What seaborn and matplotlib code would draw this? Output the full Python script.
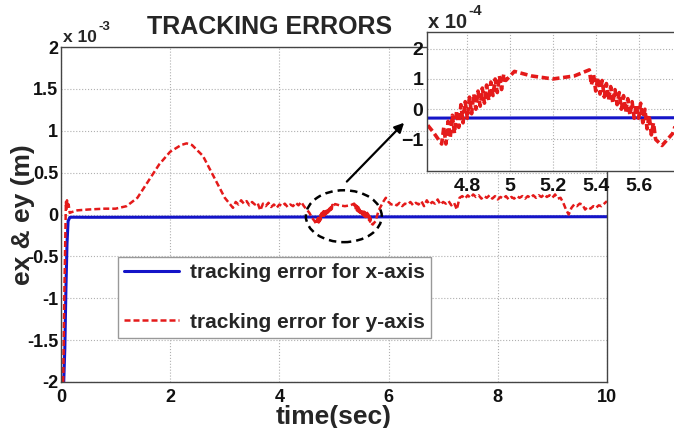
import numpy as np
import pandas as pd
import matplotlib
matplotlib.use("Agg")
import matplotlib.pyplot as plt
from matplotlib.patches import Ellipse
import seaborn as sns

# ---------------- data (errors in units of 1e-3 m) ----------------
t_x = [0.05, 0.07, 0.09, 0.11, 0.13, 0.16, 0.2, 0.5, 2.0, 4.0, 6.0, 8.0, 10.0]
ex = [-2.0, -1.6, -0.9, -0.35, -0.08, -0.035, -0.032, -0.033, -0.032, -0.03, -0.028, -0.027, -0.026]

# start-up + bump
t_y1 = [0.04, 0.06, 0.08, 0.09, 0.10, 0.11, 0.12, 0.14, 0.16, 0.2, 0.3, 0.5, 0.8, 1.0, 1.2,
        1.4, 1.6, 1.8, 2.0, 2.2, 2.3, 2.4, 2.6, 2.8, 3.0, 3.1, 3.15]
ey1 = [-2.0, -1.0, -0.2, 0.15, 0.05, 0.17, 0.08, 0.12, 0.02, 0.03, 0.05, 0.06, 0.07, 0.07, 0.1,
       0.2, 0.4, 0.6, 0.75, 0.83, 0.85, 0.83, 0.7, 0.45, 0.2, 0.12, 0.08]
# noisy section before the zoomed region
t_y2 = [3.2, 3.25, 3.3, 3.35, 3.4, 3.45, 3.5, 3.55, 3.6, 3.65, 3.7, 3.75, 3.8, 3.85, 3.9, 3.95,
        4.0, 4.05, 4.1, 4.15, 4.2, 4.25, 4.3, 4.35, 4.4, 4.45, 4.5, 4.55, 4.6, 4.64]
ey2 = [0.15, 0.12, 0.17, 0.13, 0.16, 0.11, 0.15, 0.12, 0.14, 0.05, 0.13, 0.10, 0.14, 0.09, 0.12, 0.08,
       0.12, 0.10, 0.13, 0.09, 0.12, 0.10, 0.14, 0.11, 0.15, 0.10, 0.06, 0.02, -0.04, -0.075]
# zoomed region (4.65 .. 5.8)
t_y3 = [4.68, 4.69, 4.70, 4.71, 4.72, 4.73, 4.74, 4.75, 4.76, 4.77, 4.78, 4.79, 4.80, 4.81,
        4.82, 4.83, 4.84, 4.85, 4.86, 4.87, 4.88, 4.89, 4.90, 4.91, 4.92, 4.93, 4.94, 4.95,
        4.96, 4.97, 4.98, 5.02, 5.1, 5.2, 5.3, 5.37,
        5.38, 5.39, 5.40, 5.41, 5.42, 5.43, 5.44, 5.45, 5.46, 5.47, 5.48, 5.49, 5.50, 5.51,
        5.52, 5.53, 5.54, 5.55, 5.56, 5.57, 5.58, 5.59, 5.60, 5.61, 5.62, 5.63, 5.64, 5.65,
        5.66, 5.67, 5.68, 5.71, 5.76, 5.82, 5.9]
ey3 = [-0.115, -0.06, -0.115, -0.04, -0.095, -0.02, -0.08, -0.005, -0.06, 0.015, -0.045, 0.025, -0.03, 0.04,
       -0.015, 0.05, 0.0, 0.06, 0.01, 0.07, 0.02, 0.08, 0.03, 0.09, 0.045, 0.10, 0.055, 0.11,
       0.065, 0.115, 0.095, 0.125, 0.11, 0.10, 0.11, 0.13,
       0.08, 0.115, 0.06, 0.105, 0.05, 0.095, 0.04, 0.085, 0.03, 0.075, 0.02, 0.065, 0.015, 0.055,
       0.0, 0.045, -0.01, 0.035, -0.02, 0.025, -0.03, 0.015, -0.03, 0.02, -0.045, 0.0, -0.065, -0.02,
       -0.085, -0.045, -0.10, -0.12, -0.08, 0.05, 0.15]
# noisy section after the zoomed region
t_y4 = [5.95, 6.0, 6.05, 6.1, 6.15, 6.2, 6.25, 6.3, 6.35, 6.4, 6.45, 6.5, 6.55, 6.6, 6.65, 6.7,
        6.75, 6.8, 6.85, 6.9, 6.95, 7.0, 7.05, 7.1, 7.15, 7.2, 7.25, 7.3, 7.35, 7.4, 7.45, 7.5,
        7.55, 7.6, 7.65, 7.7, 7.75, 7.8, 7.85, 7.9, 7.95, 8.0, 8.05, 8.1, 8.15, 8.2, 8.25, 8.3,
        8.35, 8.4, 8.45, 8.5, 8.55, 8.6, 8.65, 8.7, 8.75, 8.8, 8.85, 8.9, 8.95, 9.0, 9.05, 9.1,
        9.15, 9.2, 9.25, 9.3, 9.35, 9.4, 9.45, 9.5, 9.55, 9.6, 9.65, 9.7, 9.75, 9.8, 9.85, 9.9,
        9.95, 10.0]
ey4 = [0.20, 0.15, 0.12, 0.13, 0.11, 0.14, 0.10, 0.13, 0.12, 0.15, 0.11, 0.14, 0.12, 0.16, 0.10, 0.17,
       0.12, 0.15, 0.13, 0.18, 0.12, 0.15, 0.13, 0.16, 0.11, 0.14, 0.06, 0.20, 0.22, 0.19, 0.23, 0.20,
       0.24, 0.21, 0.23, 0.19, 0.22, 0.20, 0.23, 0.19, 0.22, 0.18, 0.21, 0.19, 0.22, 0.18, 0.21, 0.19,
       0.22, 0.20, 0.22, 0.19, 0.22, 0.20, 0.23, 0.20, 0.23, 0.21, 0.24, 0.21, 0.23, 0.20, 0.24, 0.19,
       0.20, 0.14, 0.06, 0.0, 0.08, 0.12, 0.10, 0.13, 0.12, 0.06, 0.09, 0.07, 0.10, 0.08, 0.11, 0.10,
       0.13, 0.16]

t_y = t_y1 + t_y2 + t_y3 + t_y4
ey = ey1 + ey2 + ey3 + ey4

main_xticks = [0, 2, 4, 6, 8, 10]
main_yticks = [-2, -1.5, -1, -0.5, 0, 0.5, 1, 1.5, 2]
main_ytick_labels = ["-2", "-1.5", "-1", "-0.5", "0", "0.5", "1", "1.5", "2"]
inset_xticks = [4.8, 5.0, 5.2, 5.4, 5.6]
inset_xtick_labels = ["4.8", "5", "5.2", "5.4", "5.6"]
inset_yticks = [-1, 0, 1, 2]

label_x = "tracking error for x-axis"
label_y = "tracking error for y-axis"

df_x = pd.DataFrame({"t": t_x, "e": ex})
df_y = pd.DataFrame({"t": t_y, "e": ey})
df_x_in = pd.DataFrame({"t": t_x, "e": np.array(ex) * 10})
df_y_in = pd.DataFrame({"t": t_y, "e": np.array(ey) * 10})

# ---------------- style ----------------
sns.set_style("white")
plt.rcParams["font.family"] = ["Liberation Sans", "DejaVu Sans"]
plt.rcParams["font.weight"] = "bold"

BLUE = "#1414c8"
RED = "#e41a1a"
GRID = dict(color="#b0b0b0", linestyle=":", linewidth=0.8)

fig = plt.figure(figsize=(6.74, 4.28), dpi=100)
ax = fig.add_axes([0.0905, 0.1075, 0.81, 0.7825])

sns.lineplot(data=df_x, x="t", y="e", ax=ax, color=BLUE, linewidth=2.2,
             estimator=None, sort=False, label=label_x)
sns.lineplot(data=df_y, x="t", y="e", ax=ax, color=RED, linewidth=1.8,
             estimator=None, sort=False, label=label_y, dashes=False)
ax.lines[1].set_dashes((2.4, 1.2))

ax.set_xlim(0, 10)
ax.set_ylim(-2, 2)
ax.set_xticks(main_xticks)
ax.set_yticks(main_yticks)
ax.set_yticklabels(main_ytick_labels)
ax.tick_params(direction="in", length=3, labelsize=13, pad=2, colors="#111111")
for lab in ax.get_xticklabels() + ax.get_yticklabels():
    lab.set_fontweight("bold")
ax.xaxis.set_tick_params(pad=5)
ax.grid(True, **GRID)
for s in ax.spines.values():
    s.set_color("#444444")
    s.set_linewidth(1.0)

ax.set_xlabel("time(sec)", fontsize=19, fontweight="bold", labelpad=-1)
ax.set_ylabel("ex & ey (m)", fontsize=19, fontweight="bold", labelpad=-6)

leg = ax.legend(loc="upper left", bbox_to_anchor=(0.104, 0.373), borderaxespad=0,
                fontsize=15, handlelength=2.65, handletextpad=0.5, labelspacing=1.45,
                borderpad=0.3, fancybox=False, framealpha=1, edgecolor="#999999")
leg.get_frame().set_linewidth(1.0)
for txt in leg.get_texts():
    txt.set_fontweight("bold")

# title and exponent text
fig.text(0.400, 0.937, "TRACKING ERRORS", fontsize=18, fontweight="bold", ha="center", va="center")
fig.text(0.093, 0.912, "x 10", fontsize=12.5, fontweight="bold", ha="left", va="center")
fig.text(0.146, 0.936, "-3", fontsize=9.5, fontweight="bold", ha="left", va="center")

# dashed ellipse + arrow
ax.add_patch(Ellipse((5.18, -0.02), 1.39, 0.62, fill=False, edgecolor="black",
                     linestyle=(0, (3, 2)), linewidth=1.8, zorder=5))
ax.annotate("", xy=(6.32, 1.12), xytext=(5.2, 0.37),
            arrowprops=dict(arrowstyle="-|>", color="black", lw=1.6, mutation_scale=14),
            annotation_clip=False, zorder=6)

# ---------------- inset ----------------
axin = fig.add_axes([0.634, 0.600, 0.38, 0.325])
sns.lineplot(data=df_x_in, x="t", y="e", ax=axin, color=BLUE, linewidth=2.2,
             estimator=None, sort=False, legend=False)
sns.lineplot(data=df_y_in, x="t", y="e", ax=axin, color=RED, linewidth=2.6,
             estimator=None, sort=False, legend=False)
axin.lines[1].set_dashes((2.0, 1.0))
axin.set_xlim(4.613, 5.81)
axin.set_ylim(-2.05, 2.55)
axin.set_xticks(inset_xticks)
axin.set_xticklabels(inset_xtick_labels)
axin.set_yticks(inset_yticks)
axin.tick_params(direction="in", length=3, labelsize=14, pad=3, colors="#111111")
axin.xaxis.set_tick_params(pad=5)
for lab in axin.get_xticklabels() + axin.get_yticklabels():
    lab.set_fontweight("bold")
axin.grid(True, **GRID)
axin.set_xlabel("")
axin.set_ylabel("")
axin.set_facecolor("white")
for s in axin.spines.values():
    s.set_color("#444444")
    s.set_linewidth(1.0)
fig.text(0.635, 0.948, "x 10", fontsize=14.5, fontweight="bold", ha="left", va="center")
fig.text(0.695, 0.975, "-4", fontsize=11, fontweight="bold", ha="left", va="center")

fig.savefig("out.png", dpi=100)
